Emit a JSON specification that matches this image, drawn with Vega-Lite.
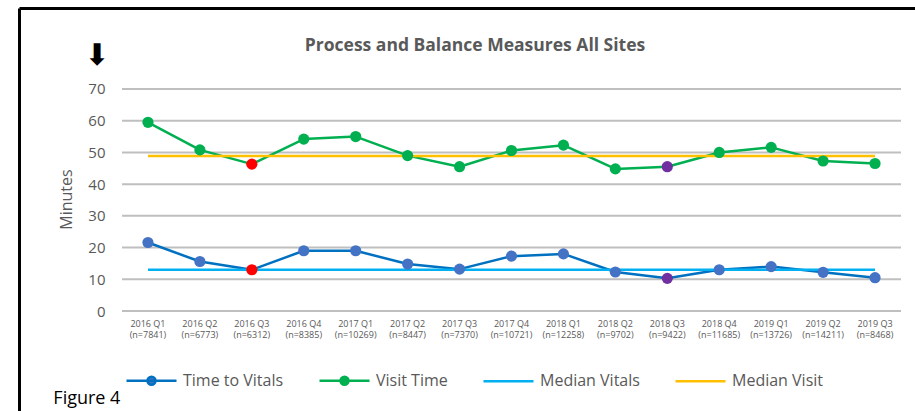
{
  "$schema": "https://vega.github.io/schema/vega-lite/v6.json",
  "width": 896,
  "height": 403,
  "autosize": {"type": "none"},
  "padding": {"left": 19, "top": 8, "right": 0, "bottom": 0},
  "background": "white",
  "title": {
    "text": "Process and Balance Measures All Sites",
    "anchor": "middle",
    "frame": "group",
    "offset": -55,
    "baseline": "middle",
    "dx": 8,
    "font": "Open Sans",
    "fontSize": 17.5,
    "fontWeight": "bold",
    "color": "#595959"
  },
  "config": {"view": {"stroke": null}, "font": "Open Sans"},
  "resolve": {"scale": {"x": "independent"}, "axis": {"x": "independent"}},
  "datasets": {
    "main": [
      {"quarter": "2016 Q1 (n=7841)", "series": "Time to Vitals", "minutes": 21.6, "flag": ""},
      {"quarter": "2016 Q2 (n=6773)", "series": "Time to Vitals", "minutes": 15.6, "flag": ""},
      {"quarter": "2016 Q3 (n=6312)", "series": "Time to Vitals", "minutes": 13.0, "flag": "A"},
      {"quarter": "2016 Q4 (n=8385)", "series": "Time to Vitals", "minutes": 19.0, "flag": ""},
      {"quarter": "2017 Q1 (n=10269)", "series": "Time to Vitals", "minutes": 19.0, "flag": ""},
      {"quarter": "2017 Q2 (n=8447)", "series": "Time to Vitals", "minutes": 14.8, "flag": ""},
      {"quarter": "2017 Q3 (n=7370)", "series": "Time to Vitals", "minutes": 13.2, "flag": ""},
      {"quarter": "2017 Q4 (n=10721)", "series": "Time to Vitals", "minutes": 17.3, "flag": ""},
      {"quarter": "2018 Q1 (n=12258)", "series": "Time to Vitals", "minutes": 18.0, "flag": ""},
      {"quarter": "2018 Q2 (n=9702)", "series": "Time to Vitals", "minutes": 12.3, "flag": ""},
      {"quarter": "2018 Q3 (n=9422)", "series": "Time to Vitals", "minutes": 10.3, "flag": "B"},
      {"quarter": "2018 Q4 (n=11685)", "series": "Time to Vitals", "minutes": 13.0, "flag": ""},
      {"quarter": "2019 Q1 (n=13726)", "series": "Time to Vitals", "minutes": 14.0, "flag": ""},
      {"quarter": "2019 Q2 (n=14211)", "series": "Time to Vitals", "minutes": 12.2, "flag": ""},
      {"quarter": "2019 Q3 (n=8468)", "series": "Time to Vitals", "minutes": 10.5, "flag": ""},
      {"quarter": "2016 Q1 (n=7841)", "series": "Visit Time", "minutes": 59.5, "flag": ""},
      {"quarter": "2016 Q2 (n=6773)", "series": "Visit Time", "minutes": 50.8, "flag": ""},
      {"quarter": "2016 Q3 (n=6312)", "series": "Visit Time", "minutes": 46.3, "flag": "A"},
      {"quarter": "2016 Q4 (n=8385)", "series": "Visit Time", "minutes": 54.2, "flag": ""},
      {"quarter": "2017 Q1 (n=10269)", "series": "Visit Time", "minutes": 55.0, "flag": ""},
      {"quarter": "2017 Q2 (n=8447)", "series": "Visit Time", "minutes": 49.0, "flag": ""},
      {"quarter": "2017 Q3 (n=7370)", "series": "Visit Time", "minutes": 45.5, "flag": ""},
      {"quarter": "2017 Q4 (n=10721)", "series": "Visit Time", "minutes": 50.6, "flag": ""},
      {"quarter": "2018 Q1 (n=12258)", "series": "Visit Time", "minutes": 52.3, "flag": ""},
      {"quarter": "2018 Q2 (n=9702)", "series": "Visit Time", "minutes": 44.8, "flag": ""},
      {"quarter": "2018 Q3 (n=9422)", "series": "Visit Time", "minutes": 45.5, "flag": "B"},
      {"quarter": "2018 Q4 (n=11685)", "series": "Visit Time", "minutes": 50.0, "flag": ""},
      {"quarter": "2019 Q1 (n=13726)", "series": "Visit Time", "minutes": 51.6, "flag": ""},
      {"quarter": "2019 Q2 (n=14211)", "series": "Visit Time", "minutes": 47.3, "flag": ""},
      {"quarter": "2019 Q3 (n=8468)", "series": "Visit Time", "minutes": 46.5, "flag": ""}
    ],
    "medians": [
      {"series": "Median Vitals", "minutes": 13.0, "from": "2016 Q1 (n=7841)", "to": "2019 Q3 (n=8468)"},
      {"series": "Median Visit", "minutes": 48.9, "from": "2016 Q1 (n=7841)", "to": "2019 Q3 (n=8468)"}
    ],
    "grid": [
      {"tick": 0, "from": "2016 Q1 (n=7841)", "to": "2019 Q3 (n=8468)"},
      {"tick": 10, "from": "2016 Q1 (n=7841)", "to": "2019 Q3 (n=8468)"},
      {"tick": 20, "from": "2016 Q1 (n=7841)", "to": "2019 Q3 (n=8468)"},
      {"tick": 30, "from": "2016 Q1 (n=7841)", "to": "2019 Q3 (n=8468)"},
      {"tick": 40, "from": "2016 Q1 (n=7841)", "to": "2019 Q3 (n=8468)"},
      {"tick": 50, "from": "2016 Q1 (n=7841)", "to": "2019 Q3 (n=8468)"},
      {"tick": 60, "from": "2016 Q1 (n=7841)", "to": "2019 Q3 (n=8468)"},
      {"tick": 70, "from": "2016 Q1 (n=7841)", "to": "2019 Q3 (n=8468)"}
    ],
    "figure": [{"label": "Figure 4"}],
    "arrow": [{"label": "⬇"}]
  },
  "layer": [
    {
      "data": {"name": "grid"},
      "mark": {"type": "rule", "color": "#BFBFBF", "strokeWidth": 2},
      "encoding": {
        "x": {
          "field": "from", "type": "nominal", "bandPosition": 0,
          "scale": {"type": "band", "domain": ["2016 Q1 (n=7841)", "2016 Q2 (n=6773)", "2016 Q3 (n=6312)", "2016 Q4 (n=8385)", "2017 Q1 (n=10269)", "2017 Q2 (n=8447)", "2017 Q3 (n=7370)", "2017 Q4 (n=10721)", "2018 Q1 (n=12258)", "2018 Q2 (n=9702)", "2018 Q3 (n=9422)", "2018 Q4 (n=11685)", "2019 Q1 (n=13726)", "2019 Q2 (n=14211)", "2019 Q3 (n=8468)"], "range": [103, 882], "paddingInner": 0, "paddingOuter": 0},
          "axis": null
        },
        "x2": {"field": "to", "bandPosition": 1},
        "y": {"field": "tick", "type": "quantitative"}
      }
    },
    {
      "data": {"name": "main"},
      "mark": {"type": "line", "strokeWidth": 2.5, "strokeJoin": "round", "strokeCap": "round"},
      "encoding": {
        "x": {
          "field": "quarter",
          "type": "nominal",
          "scale": {"type": "band", "domain": ["2016 Q1 (n=7841)", "2016 Q2 (n=6773)", "2016 Q3 (n=6312)", "2016 Q4 (n=8385)", "2017 Q1 (n=10269)", "2017 Q2 (n=8447)", "2017 Q3 (n=7370)", "2017 Q4 (n=10721)", "2018 Q1 (n=12258)", "2018 Q2 (n=9702)", "2018 Q3 (n=9422)", "2018 Q4 (n=11685)", "2019 Q1 (n=13726)", "2019 Q2 (n=14211)", "2019 Q3 (n=8468)"], "range": [103, 882], "paddingInner": 0, "paddingOuter": 0},
          "axis": {
            "orient": "bottom",
            "title": null,
            "domain": false,
            "ticks": false,
            "tickSize": 0,
            "grid": false,
            "labelPadding": -92,
            "labelBaseline": "top",
            "labelAlign": "center",
            "labelAngle": 0,
            "labelFont": "Open Sans",
            "labelFontSize": 9,
            "labelColor": "#595959",
            "labelLineHeight": 11.5,
            "labelOverlap": false,
            "labelExpr": "[substring(datum.label, 0, 7), substring(datum.label, 8)]"
          }
        },
        "y": {
          "field": "minutes",
          "type": "quantitative",
          "scale": {"domain": [-31.53, 95.54], "nice": false, "zero": false},
          "axis": {
            "orient": "left",
            "values": [0, 10, 20, 30, 40, 50, 60, 70],
            "grid": false,
            "ticks": false,
            "tickSize": 0,
            "domain": true,
            "domainColor": "#000000",
            "domainWidth": 3,
            "labelPadding": -86,
            "labelFont": "Open Sans",
            "labelFontSize": 15,
            "labelColor": "#595959",
            "labelOverlap": false,
            "title": "Minutes",
            "titleFont": "Open Sans",
            "titleFontSize": 16,
            "titleFontWeight": "normal",
            "titleColor": "#595959",
            "titleAngle": -90,
            "titleBaseline": "middle",
            "titleAlign": "center",
            "titleX": 47,
            "titleY": 191
          }
        },
        "color": {
          "field": "series",
          "type": "nominal",
          "scale": {
            "domain": ["Time to Vitals", "Visit Time", "Median Vitals", "Median Visit"],
            "range": ["#0070C0", "#00B050", "#00B0F0", "#FFC000"]
          },
          "legend": {
            "orient": "none",
            "direction": "horizontal",
            "legendX": 106,
            "legendY": 346,
            "title": null,
            "padding": 0,
            "symbolSize": 2500,
            "symbolStrokeWidth": 2.5,
            "symbolType": "M-1,0H1",
            "labelFont": "Open Sans",
            "labelFontSize": 16,
            "labelColor": "#595959",
            "labelOffset": 5,
            "columnPadding": 30,
            "encode": {
              "symbols": {
                "update": {
                  "shape": {"signal": "(datum.value === 'Time to Vitals' || datum.value === 'Visit Time') ? 'M-1,0H1M0.16,0A0.16,0.16,0,1,1,-0.16,0A0.16,0.16,0,1,1,0.16,0Z' : 'M-1,0H1'"},
                  "fill": {"signal": "datum.value === 'Time to Vitals' ? '#4472C4' : datum.value === 'Visit Time' ? '#00B050' : 'transparent'"},
                  "stroke": {"signal": "datum.value === 'Time to Vitals' ? '#0070C0' : datum.value === 'Visit Time' ? '#00B050' : datum.value === 'Median Vitals' ? '#00B0F0' : '#FFC000'"},
                  "strokeWidth": {"value": 2.5},
                  "opacity": {"value": 1}
                }
              }
            }
          }
        }
      }
    },
    {
      "data": {"name": "medians"},
      "mark": {"type": "rule", "strokeWidth": 2.5},
      "encoding": {
        "x": {
          "field": "from", "type": "nominal", "bandPosition": 0.5,
          "scale": {"type": "band", "domain": ["2016 Q1 (n=7841)", "2016 Q2 (n=6773)", "2016 Q3 (n=6312)", "2016 Q4 (n=8385)", "2017 Q1 (n=10269)", "2017 Q2 (n=8447)", "2017 Q3 (n=7370)", "2017 Q4 (n=10721)", "2018 Q1 (n=12258)", "2018 Q2 (n=9702)", "2018 Q3 (n=9422)", "2018 Q4 (n=11685)", "2019 Q1 (n=13726)", "2019 Q2 (n=14211)", "2019 Q3 (n=8468)"], "range": [103, 882], "paddingInner": 0, "paddingOuter": 0},
          "axis": null
        },
        "x2": {"field": "to", "bandPosition": 0.5},
        "y": {"field": "minutes", "type": "quantitative"},
        "color": {"field": "series", "type": "nominal"}
      }
    },
    {
      "data": {"name": "main"},
      "mark": {"type": "point", "filled": true, "size": 125, "opacity": 1, "strokeWidth": 0},
      "encoding": {
        "x": {
          "field": "quarter", "type": "nominal",
          "scale": {"type": "band", "domain": ["2016 Q1 (n=7841)", "2016 Q2 (n=6773)", "2016 Q3 (n=6312)", "2016 Q4 (n=8385)", "2017 Q1 (n=10269)", "2017 Q2 (n=8447)", "2017 Q3 (n=7370)", "2017 Q4 (n=10721)", "2018 Q1 (n=12258)", "2018 Q2 (n=9702)", "2018 Q3 (n=9422)", "2018 Q4 (n=11685)", "2019 Q1 (n=13726)", "2019 Q2 (n=14211)", "2019 Q3 (n=8468)"], "range": [103, 882], "paddingInner": 0, "paddingOuter": 0},
          "axis": null
        },
        "y": {"field": "minutes", "type": "quantitative"},
        "fill": {
          "condition": [
            {"test": "datum.flag === 'A'", "value": "#FF0000"},
            {"test": "datum.flag === 'B'", "value": "#7030A0"}
          ],
          "field": "series",
          "type": "nominal",
          "scale": {"domain": ["Time to Vitals", "Visit Time"], "range": ["#4472C4", "#00B050"]},
          "legend": null
        }
      }
    },
    {
      "data": {"name": "arrow"},
      "mark": {"type": "text", "font": "DejaVu Sans", "fontSize": 30, "color": "#000000", "align": "center", "baseline": "middle", "dx": -51},
      "encoding": {
        "x": {
          "datum": "2016 Q1 (n=7841)", "type": "nominal",
          "scale": {"type": "band", "domain": ["2016 Q1 (n=7841)", "2016 Q2 (n=6773)", "2016 Q3 (n=6312)", "2016 Q4 (n=8385)", "2017 Q1 (n=10269)", "2017 Q2 (n=8447)", "2017 Q3 (n=7370)", "2017 Q4 (n=10721)", "2018 Q1 (n=12258)", "2018 Q2 (n=9702)", "2018 Q3 (n=9422)", "2018 Q4 (n=11685)", "2019 Q1 (n=13726)", "2019 Q2 (n=14211)", "2019 Q3 (n=8468)"], "range": [103, 882], "paddingInner": 0, "paddingOuter": 0},
          "axis": null
        },
        "y": {"datum": 80.4, "type": "quantitative"},
        "text": {"field": "label"}
      }
    },
    {
      "data": {"name": "figure"},
      "mark": {"type": "text", "font": "Open Sans", "fontSize": 18, "color": "#000000", "align": "center", "baseline": "middle", "dx": 38},
      "encoding": {
        "x": {
          "datum": "2016 Q1 (n=7841)", "type": "nominal",
          "scale": {"type": "band", "domain": ["2016 Q1 (n=7841)", "2016 Q2 (n=6773)", "2016 Q3 (n=6312)", "2016 Q4 (n=8385)", "2017 Q1 (n=10269)", "2017 Q2 (n=8447)", "2017 Q3 (n=7370)", "2017 Q4 (n=10721)", "2018 Q1 (n=12258)", "2018 Q2 (n=9702)", "2018 Q3 (n=9422)", "2018 Q4 (n=11685)", "2019 Q1 (n=13726)", "2019 Q2 (n=14211)", "2019 Q3 (n=8468)"], "paddingInner": 0, "paddingOuter": 0},
          "axis": {
            "orient": "top",
            "title": null,
            "domain": true,
            "domainColor": "#000000",
            "domainWidth": 3,
            "labels": false,
            "ticks": false,
            "grid": false
          }
        },
        "y": {"datum": -27.8, "type": "quantitative"},
        "text": {"field": "label"}
      }
    }
  ]
}
